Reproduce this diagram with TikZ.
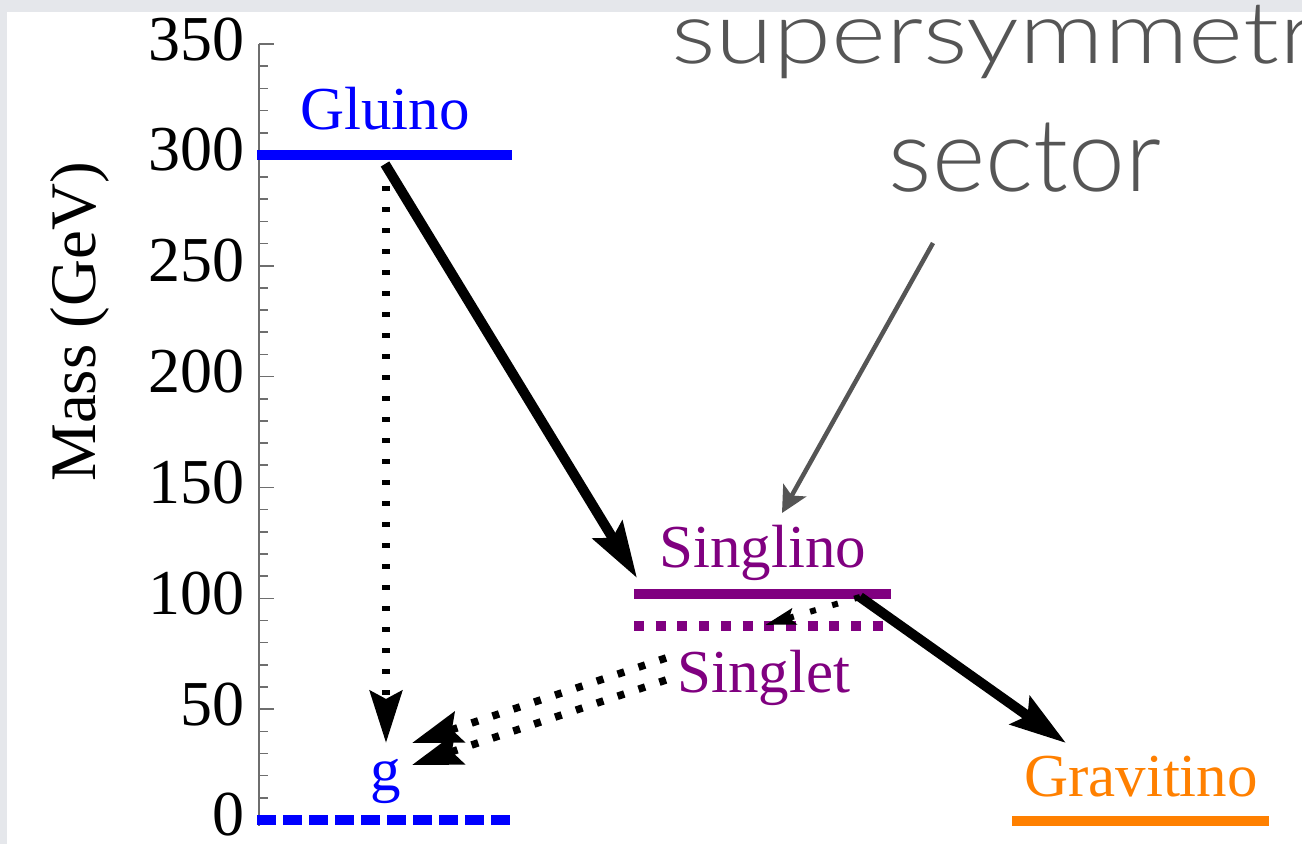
\documentclass[tikz,border=0pt]{standalone}
\usepackage{fontspec}
\setmainfont{Liberation Serif}
\newfontfamily\slidefont{Lato Light}
\usepackage{graphicx}
\usetikzlibrary{positioning, arrows.meta, calc}

\definecolor{slidegray}{RGB}{229,231,235}
\definecolor{axisgray}{RGB}{110,110,110}
\definecolor{notegray}{RGB}{85,85,85}
\definecolor{gluinoblue}{RGB}{0,0,255}
\definecolor{singpurple}{RGB}{128,0,128}
\definecolor{gravorange}{RGB}{255,128,0}

\begin{document}
\begin{tikzpicture}[
        x=1pt, y=-1pt,
        level/.style={line width=10.5pt, draw=#1},
        lbl/.style={text=#1, font=\fontsize{61}{66}\selectfont, anchor=base, inner sep=0pt},
        ticklbl/.style={font=\fontsize{64}{70}\selectfont, anchor=east, inner sep=0pt},
        decay/.style={line width=10pt, -{Stealth[length=56pt, width=34pt, inset=9pt]}},
        dotdecay/.style={line width=8.5pt, dash pattern=on 5pt off 16pt, dash phase=-14pt, -{Stealth[length=52pt, width=32pt, inset=8pt]}},
        ggdecay/.style={line width=7.5pt, dash pattern=on 7pt off 15pt, -{Stealth[length=50pt, width=32pt, inset=8pt]}},
        note/.style={text=notegray, font=\slidefont\fontsize{102}{110}\selectfont, inner sep=0pt},
    ]
    % slide background
    \fill[slidegray] (0,0) rectangle (1302,844);
    \fill[white] (7,12) rectangle (1302,844);
    \useasboundingbox (0,0) rectangle (1302,844);

    % mass axis
    \draw[axisgray, line width=2pt] (259,44) -- (259,826);
    \foreach \m in {0,10,...,350}
        \draw[axisgray, line width=1.6pt] (259,{820-2.217*\m}) -- ++(9,0);
    \foreach \m in {0,50,...,350} {
        \draw[axisgray, line width=1.6pt] (259,{820-2.217*\m}) -- ++(15,0);
        \node[ticklbl] (t\m) at (245,{815-2.217*\m}) {\m};
    }
    \node[rotate=90, font=\fontsize{65}{70}\selectfont] (masslabel) at (80,322) {Mass (GeV)};

    % mass levels
    \coordinate (gluinoL) at (257,155);
    \coordinate (gluinoR) at (512,155);
    \coordinate (gluonL) at (257,820);
    \coordinate (gluonR) at (515,820);
    \coordinate (singlinoL) at (634,594);
    \coordinate (singlinoR) at (891,594);
    \coordinate (singletL) at (634,626);
    \coordinate (singletR) at (888,626);
    \coordinate (gravL) at (1012,821);
    \coordinate (gravR) at (1269,821);

    \draw[level=gluinoblue] (gluinoL) -- (gluinoR);
    \draw[level=gluinoblue, dash pattern=on 19pt off 7pt] (gluonL) -- (gluonR);
    \draw[level=singpurple] (singlinoL) -- (singlinoR);
    \draw[level=singpurple, dash pattern=on 10pt off 11.7pt] (singletL) -- (singletR);
    \draw[level=gravorange] (gravL) -- (gravR);

    % particle names
    \node[lbl=gluinoblue] (gluino) at (385,129) {Gluino};
    \node[lbl=gluinoblue] (gluon) at (386,790) {g};
    \node[lbl=singpurple] (singlino) at (763,567) {Singlino};
    \node[lbl=singpurple] (singlet) at (764,692) {Singlet};
    \node[lbl=gravorange] (gravitino) at (1141,796) {Gravitino};

    % decays
    \coordinate (gluinoOut) at (385,164);
    \coordinate (singlinoIn) at (637,578);
    \coordinate (gluinoDot) at (386,172);
    \coordinate (gluonIn) at (386,743);
    \coordinate (singlinoOut) at (860,597);
    \coordinate (singletIn) at (765,625);
    \coordinate (gravIn) at (1066,743);
    \coordinate (singletOutA) at (666,658);
    \coordinate (singletOutB) at (666,680);
    \coordinate (gluonInA) at (412,743);
    \coordinate (gluonInB) at (412,765);

    \draw[decay] (gluinoOut) -- (singlinoIn);
    \draw[dotdecay] (gluinoDot) -- (gluonIn);
    \draw[decay] (singlinoOut) -- (gravIn);
    \draw[line width=6pt, dash pattern=on 6pt off 17pt, -{Stealth[length=30pt, width=16pt, inset=5pt]}] (singlinoOut) -- (singletIn);
    \draw[ggdecay] (singletOutA) -- (gluonInA);
    \draw[ggdecay] (singletOutB) -- (gluonInB);

    % slide note
    \node[note, anchor=base west] (susy) at (671,63) {\scalebox{1.03}[0.85]{supersymmetr}};
    \node[note, anchor=base] (sector) at (1025,191) {sector};
    \coordinate (noteTail) at (933,243);
    \coordinate (noteTip) at (782,513);
    \draw[notegray, line width=4.5pt, -{Stealth[length=26pt, width=26pt, inset=6pt]}] (noteTail) -- (noteTip);
\end{tikzpicture}
\end{document}
